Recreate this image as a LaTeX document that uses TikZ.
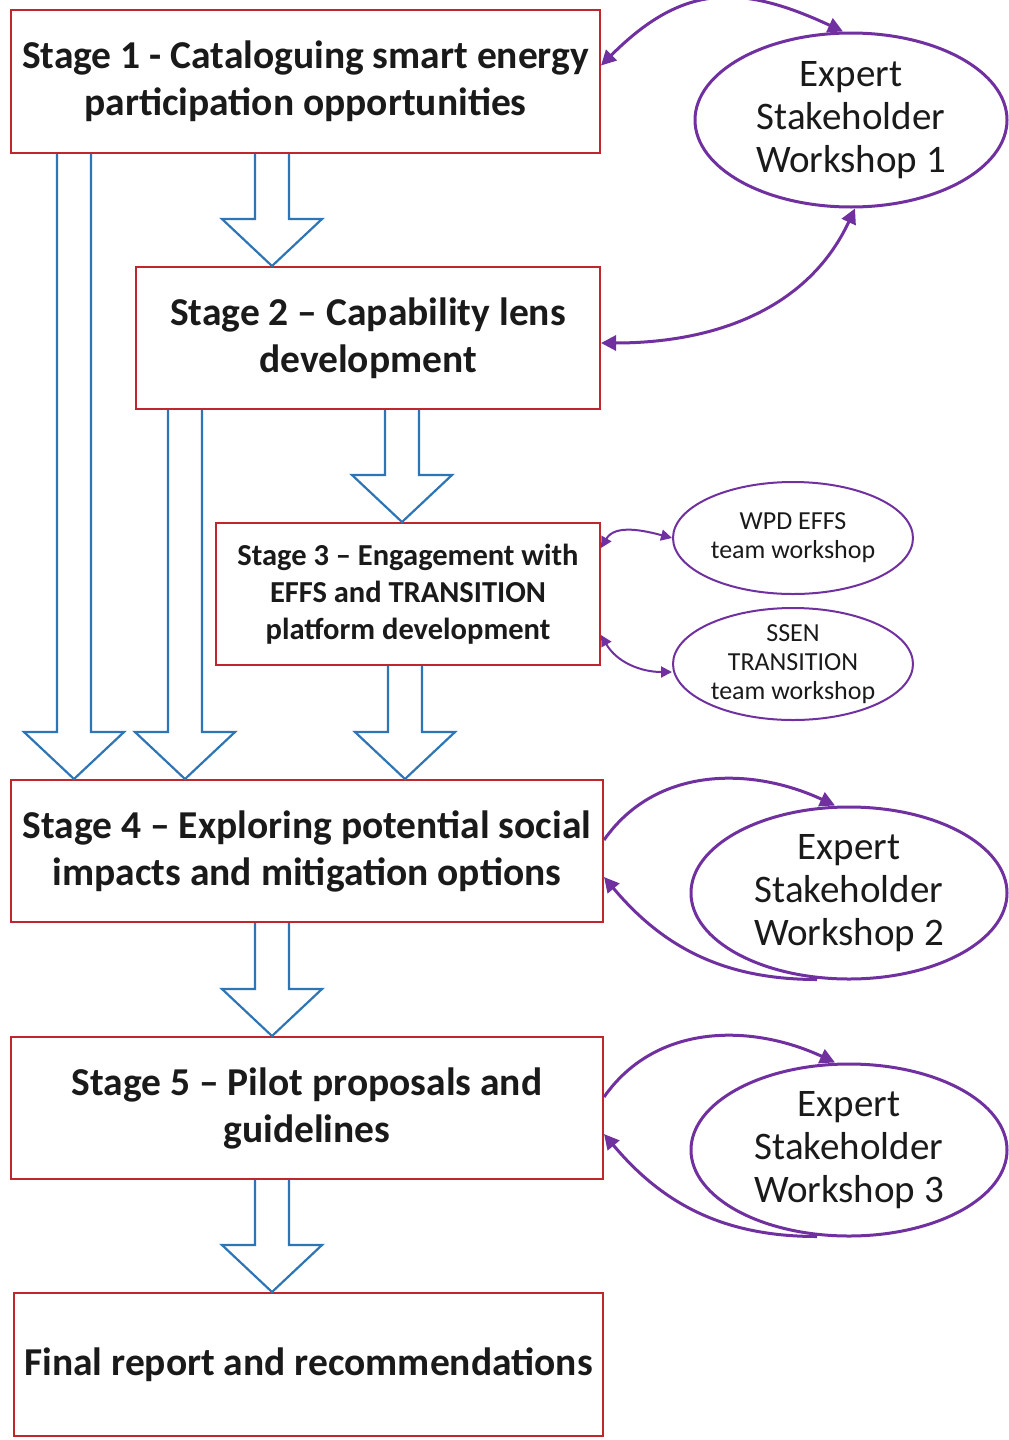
\documentclass[tikz,border=0pt]{standalone}
\usepackage{fontspec}
\setmainfont{Carlito}
\usepackage{tikz}
\usetikzlibrary{calc,arrows.meta,shapes.geometric}
\definecolor{boxred}{HTML}{C0272D}
\definecolor{flowblue}{HTML}{2E75B6}
\definecolor{wspurple}{HTML}{7030A0}
\definecolor{ink}{HTML}{1A1A1A}
\tikzset{
  stagebox/.style={draw=boxred, line width=2pt, fill=white, text=ink, align=center, inner sep=0pt,
    font=\fontsize{39.5}{47}\selectfont\bfseries},
  smallstage/.style={stagebox, font=\fontsize{30.5}{37}\selectfont\bfseries},
  workshop/.style={ellipse, draw=wspurple, line width=3pt, text=ink, align=center, inner sep=0pt,
    font=\fontsize{39}{43}\selectfont},
  teamws/.style={workshop, line width=2pt, font=\fontsize{26}{29}\selectfont},
  blockarrow/.style={draw=flowblue, line width=2.2pt, fill=white, line join=miter},
  link/.style={draw=wspurple, line width=3pt, {Triangle[length=15pt,width=15pt]}-{Triangle[length=15pt,width=15pt]}},
  onelink/.style={draw=wspurple, line width=3pt, -{Triangle[length=15pt,width=15pt]}},
  smalllink/.style={draw=wspurple, line width=2pt, {Triangle[length=11pt,width=11pt]}-{Triangle[length=11pt,width=11pt]}},
}
% hollow arrow: shaft centre, from node, to node
\newcommand{\hollowarrow}[3]{%
  \draw[blockarrow] let \p1=(#2.south), \p2=(#3.north) in
    (#1pt-17pt,\y1) -- (#1pt-17pt,\y2+47pt) -- (#1pt-50pt,\y2+47pt) -- (#1pt,\y2)
    -- (#1pt+50pt,\y2+47pt) -- (#1pt+17pt,\y2+47pt) -- (#1pt+17pt,\y1);
}

\begin{document}
\begin{tikzpicture}[x=1pt,y=-1pt]
  \useasboundingbox (0,0) rectangle (1009,1440);

  \node[stagebox, minimum width=589pt, minimum height=143pt] (s1) at (305.5,81.5)
    {Stage 1 - Cataloguing smart energy\\participation opportunities};
  \node[stagebox, minimum width=464pt, minimum height=142pt] (s2) at (368,338)
    {Stage 2 -- Capability lens\\development};
  \node[smallstage, minimum width=384pt, minimum height=142pt] (s3) at (408,594)
    {Stage 3 -- Engagement with\\EFFS and TRANSITION\\platform development};
  \node[stagebox, minimum width=592pt, minimum height=142pt] (s4) at (307,851)
    {Stage 4 -- Exploring potential social\\impacts and mitigation options};
  \node[stagebox, minimum width=592pt, minimum height=142pt] (s5) at (307,1108)
    {Stage 5 -- Pilot proposals and\\guidelines};
  \node[stagebox, minimum width=589pt, minimum height=143pt] (fin) at (308.5,1364.5)
    {Final report and recommendations};

  \node[workshop, minimum width=312pt, minimum height=174pt] (e1) at (851,120)
    {Expert\\Stakeholder\\Workshop 1};
  \node[teamws, minimum width=240pt, minimum height=112pt] (wpd) at (793,538)
    {WPD EFFS\\team workshop};
  \node[teamws, minimum width=240pt, minimum height=112pt] (ssen) at (793,664)
    {SSEN\\TRANSITION\\team workshop};
  \node[workshop, minimum width=316pt, minimum height=172pt] (e2) at (849,893)
    {Expert\\Stakeholder\\Workshop 2};
  \node[workshop, minimum width=316pt, minimum height=172pt] (e3) at (849,1150)
    {Expert\\Stakeholder\\Workshop 3};

  \hollowarrow{74}{s1}{s4}
  \hollowarrow{185}{s2}{s4}
  \hollowarrow{272}{s1}{s2}
  \hollowarrow{402}{s2}{s3}
  \hollowarrow{405}{s3}{s4}
  \hollowarrow{272}{s4}{s5}
  \hollowarrow{272}{s5}{fin}

  \draw[link] ([yshift=16pt]s1.east) to[out=45,in=155,looseness=1.2] ([xshift=-8pt]e1.north);
  \draw[link] ([yshift=-5pt]s2.east) to[out=0,in=-115] ([xshift=4pt]e1.south);
  \draw[smalllink] ([yshift=46pt]s3.east) to[out=60,in=165] (wpd.west);
  \draw[smalllink] ([yshift=-41pt]s3.east) to[out=-60,in=180] ([yshift=-8pt]ssen.west);

  \draw[onelink] ([yshift=11pt]s4.east) to[out=55,in=155] ([xshift=-14pt]e2.north);
  \draw[onelink] ([xshift=-32pt,yshift=1pt]e2.south) to[out=180,in=-50] ([yshift=-26pt]s4.east);
  \draw[onelink] ([yshift=11pt]s5.east) to[out=55,in=155] ([xshift=-14pt]e3.north);
  \draw[onelink] ([xshift=-32pt,yshift=1pt]e3.south) to[out=180,in=-50] ([yshift=-26pt]s5.east);
\end{tikzpicture}
\end{document}
